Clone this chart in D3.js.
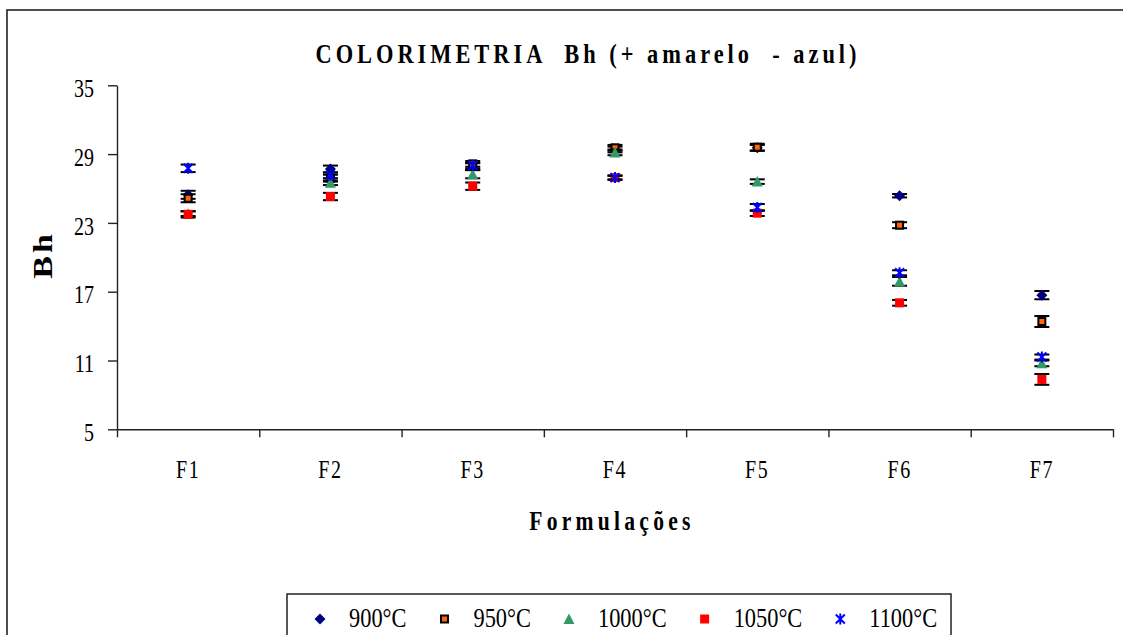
<!DOCTYPE html>
<html>
<head>
<meta charset="utf-8">
<script src="https://cdn.jsdelivr.net/npm/d3@7"></script>
<style>
    body { margin: 0; background: #fff; }
    svg text { font-family: "Liberation Serif", "Times New Roman", serif; fill: #000; }
</style>
</head>
<body>
<div id="content"></div>
<script>
(() => {
    // Chart values
    var categories = ["F1", "F2", "F3", "F4", "F5", "F6", "F7"];
    var seriesNames = ["900°C", "950°C", "1000°C", "1050°C", "1100°C"];
    var bh900 = [25.45, 27.7, 27.9, 29.4, 29.55, 25.37, 16.7];
    var bh950 = [25.15, 26.9, 28.15, 29.55, 29.6, 22.8, 14.4];
    var bh1000 = [23.8, 26.5, 27.25, 29.15, 26.6, 17.9, 10.75];
    var bh1050 = [23.75, 25.3, 26.2, 26.95, 23.85, 16.03, 9.35];
    var bh1100 = [27.76, 27.15, 28.0, 26.95, 24.35, 18.65, 11.3];
    var err900 = [0.35, 0.3, 0.3, 0.25, 0.25, 0.15, 0.36];
    var err950 = [0.35, 0.3, 0.25, 0.25, 0.3, 0.26, 0.48];
    var err1000 = [0.2, 0.2, 0.36, 0.25, 0.2, 0.38, 0.25];
    var err1050 = [0.28, 0.32, 0.32, 0.2, 0.25, 0.25, 0.47];
    var err1100 = [0.33, 0.25, 0.25, 0.15, 0.3, 0.22, 0.22];
    var yTicks = [5, 11, 17, 23, 29, 35];

    var values = [bh900, bh950, bh1000, bh1050, bh1100];
    var errors = [err900, err950, err1000, err1050, err1100];

    var W = 1123, H = 635;
    var plot = { left: 117, right: 1113, top: 85.3, bottom: 429.3 };
    var SQ = 0.8; // horizontal squeeze of the text in the original

    var svg = d3.select("#content").append("svg")
        .attr("width", W)
        .attr("height", H);

    // outer chart frame (right and bottom run off the picture)
    svg.append("rect")
        .attr("x", 7).attr("y", 10)
        .attr("width", W).attr("height", H)
        .attr("fill", "none")
        .attr("stroke", "#222")
        .attr("stroke-width", 1.6);

    var x = d3.scaleBand().domain(categories).range([plot.left, plot.right]);
    var xEdge = d3.scaleLinear().domain([0, categories.length]).range([plot.left, plot.right]);
    var y = d3.scaleLinear().domain([5, 35]).range([plot.bottom, plot.top]);

    function squished(parent, px, py, txt, size, weight, anchor, spacing) {
        return parent.append("text")
            .attr("transform", "translate(" + px + "," + py + ") scale(" + SQ + ",1)")
            .attr("text-anchor", anchor)
            .style("font-size", size + "px")
            .style("font-weight", weight)
            .style("letter-spacing", spacing + "px")
            .style("white-space", "pre")
            .text(txt);
    }

    // y axis
    var yAxis = svg.append("g")
        .attr("transform", "translate(" + plot.left + ",0)")
        .call(d3.axisLeft(y).tickValues(yTicks).tickSize(9).tickSizeOuter(0));
    yAxis.selectAll("text")
        .attr("x", -23 / SQ)
        .attr("dy", "0.45em")
        .attr("transform", "scale(" + SQ + ",1)")
        .style("font-size", "25px");

    // x axis: ticks between categories
    var xAxis = svg.append("g")
        .attr("transform", "translate(0," + plot.bottom + ")")
        .call(d3.axisBottom(xEdge).tickValues(d3.range(categories.length + 1))
            .tickSize(8).tickSizeOuter(0).tickFormat(""));
    var xLabels = svg.append("g")
        .attr("transform", "translate(0," + plot.bottom + ")")
        .call(d3.axisBottom(x).tickSize(0));
    xLabels.select(".domain").remove();
    xLabels.selectAll("text")
        .attr("y", 49)
        .attr("dy", 0)
        .attr("transform", "scale(" + SQ + ",1)")
        .attr("x", function () { return 0; })
        .style("font-size", "25px")
        .style("letter-spacing", "2px");
    // scale each label around its own tick
    xLabels.selectAll(".tick").each(function () {
        d3.select(this).select("text").attr("transform", "scale(" + SQ + ",1)");
    });

    svg.selectAll(".domain, .tick line")
        .attr("stroke", "#222")
        .attr("stroke-width", 1.4);

    // titles
    squished(svg, 588, 63, "COLORIMETRIA  Bh (+ amarelo  - azul)", 28, "bold", "middle", 5);
    squished(svg, 612, 530, "Formulações", 27, "bold", "middle", 5.3);
    svg.append("text")
        .attr("transform", "translate(52,255) scale(" + SQ + ",1) rotate(-90)")
        .attr("text-anchor", "middle")
        .style("font-size", "34px")
        .style("font-weight", "bold")
        .style("letter-spacing", "3px")
        .text("Bh");

    // marker shapes, one per series
    var markers = [
        function (g) {
            g.append("path").attr("d", "M0,-5.5L5.5,0L0,5.5L-5.5,0Z").attr("fill", "#000080");
        },
        function (g) {
            g.append("rect").attr("x", -3.5).attr("y", -3.5).attr("width", 7).attr("height", 7)
                .attr("fill", "#FF6600").attr("stroke", "#000").attr("stroke-width", 2);
        },
        function (g) {
            g.append("path").attr("d", "M0,-5.5L5.5,5L-5.5,5Z").attr("fill", "#339966");
        },
        function (g) {
            g.append("rect").attr("x", -4.5).attr("y", -4.5).attr("width", 9).attr("height", 9)
                .attr("fill", "#FF0000");
        },
        function (g) {
            g.append("path").attr("d", "M-4.5,-4.5L4.5,4.5M-4.5,4.5L4.5,-4.5M0,-5.5L0,5.5")
                .attr("fill", "none").attr("stroke", "#0000FF").attr("stroke-width", 2);
        }
    ];

    var cap = 7.5;
    values.forEach(function (vals, s) {
        var sg = svg.append("g").attr("class", "series s" + s);
        vals.forEach(function (v, i) {
            var cx = x(categories[i]) + x.bandwidth() / 2;
            var e = errors[s][i];
            var eb = sg.append("g").attr("stroke", "#000").attr("stroke-width", 2);
            eb.append("line").attr("x1", cx).attr("x2", cx)
                .attr("y1", y(v - e)).attr("y2", y(v + e));
            eb.append("line").attr("x1", cx - cap).attr("x2", cx + cap)
                .attr("y1", y(v - e)).attr("y2", y(v - e));
            eb.append("line").attr("x1", cx - cap).attr("x2", cx + cap)
                .attr("y1", y(v + e)).attr("y2", y(v + e));
            var m = sg.append("g").attr("transform", "translate(" + cx + "," + y(v) + ")");
            markers[s](m);
        });
    });

    // legend
    var legend = svg.append("g").attr("class", "legend");
    legend.append("rect")
        .attr("x", 287).attr("y", 594)
        .attr("width", 664).attr("height", 80)
        .attr("fill", "#fff")
        .attr("stroke", "#222")
        .attr("stroke-width", 1.5);
    var lx = 320;
    seriesNames.forEach(function (name, s) {
        var m = legend.append("g").attr("transform", "translate(" + lx + ",619)");
        markers[s](m);
        var t = squished(legend, lx + 29, 627, name, 28, "normal", "start", 0);
        lx = lx + 29 + t.node().getComputedTextLength() * SQ + 38;
    });
})();
</script>
</body>
</html>
